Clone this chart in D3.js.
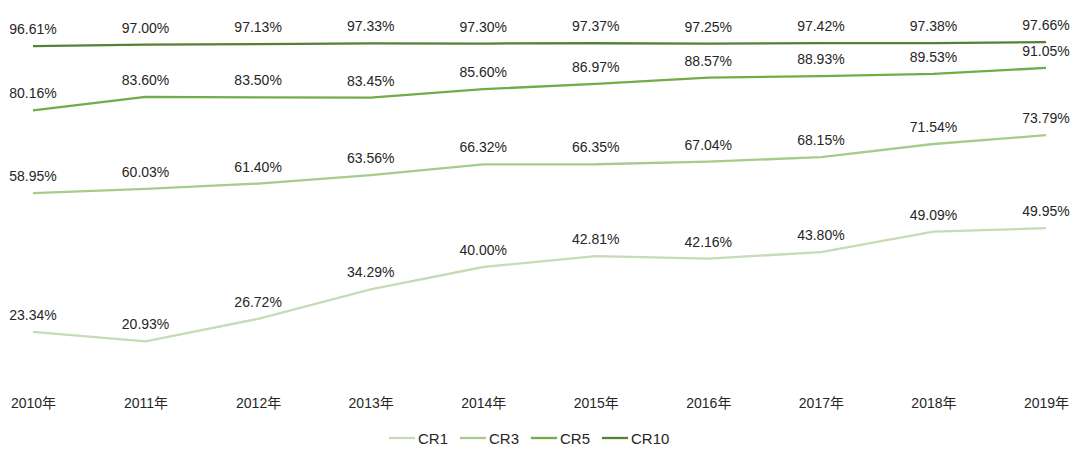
<!DOCTYPE html>
<html><head><meta charset="utf-8">
<script src="https://cdn.jsdelivr.net/npm/d3@7"></script>
<style>
html,body{margin:0;padding:0;background:#fff;}
svg{display:block;}
text{font-family:"Liberation Sans","Noto Sans CJK SC",Arial,sans-serif;fill:#262626;}
</style></head>
<body>
<svg id="chart" width="1080" height="451"></svg>
<script>
const years = ["2010年","2011年","2012年","2013年","2014年","2015年","2016年","2017年","2018年","2019年"];
const cr1  = [23.34,20.93,26.72,34.29,40.00,42.81,42.16,43.80,49.09,49.95];
const cr3  = [58.95,60.03,61.40,63.56,66.32,66.35,67.04,68.15,71.54,73.79];
const cr5  = [80.16,83.60,83.50,83.45,85.60,86.97,88.57,88.93,89.53,91.05];
const cr10 = [96.61,97.00,97.13,97.33,97.30,97.37,97.25,97.42,97.38,97.66];
const seriesNames = ["CR1","CR3","CR5","CR10"];
const seriesColors = ["#c5dcb4","#a5cc8a","#70ad47","#548235"];

const series = seriesNames.map((n,i)=>({name:n,values:[cr1,cr3,cr5,cr10][i],color:seriesColors[i]}));

const svg = d3.select("#chart");
const x = d3.scalePoint().domain(years).range([33,1046]);
const y = d3.scaleLinear().domain([0,100]).range([423,33]);

const line = d3.line().x((d,i)=>x(years[i])).y(d=>y(d));

series.forEach(s=>{
  svg.append("path").datum(s.values)
    .attr("d",line).attr("fill","none")
    .attr("stroke",s.color).attr("stroke-width",2.3)
    .attr("stroke-linejoin","round");
});

series.forEach(s=>{
  svg.append("g").selectAll("text").data(s.values).join("text")
    .attr("x",(d,i)=>x(years[i]))
    .attr("y",d=>y(d)-12)
    .attr("text-anchor","middle")
    .attr("font-size",14)
    .text(d=>d.toFixed(2)+"%");
});

// x axis labels
const xAxis = d3.axisBottom(x).tickSize(0).tickPadding(0);
const gx = svg.append("g").attr("transform","translate(0,398)").call(xAxis);
gx.select(".domain").remove();
gx.selectAll("text").attr("font-size",14).attr("dy","0.71em")
  .style("font-family",'"Liberation Sans","Noto Sans CJK SC",sans-serif').attr("fill","#262626");

// legend
const legendX = [389,460,531,602];
const lg = svg.append("g");
series.forEach((s,i)=>{
  lg.append("line").attr("x1",legendX[i]).attr("x2",legendX[i]+26)
    .attr("y1",438).attr("y2",438).attr("stroke",s.color).attr("stroke-width",2.3);
  lg.append("text").attr("x",legendX[i]+29).attr("y",443.5)
    .attr("font-size",15).text(s.name);
});
</script>
</body></html>
